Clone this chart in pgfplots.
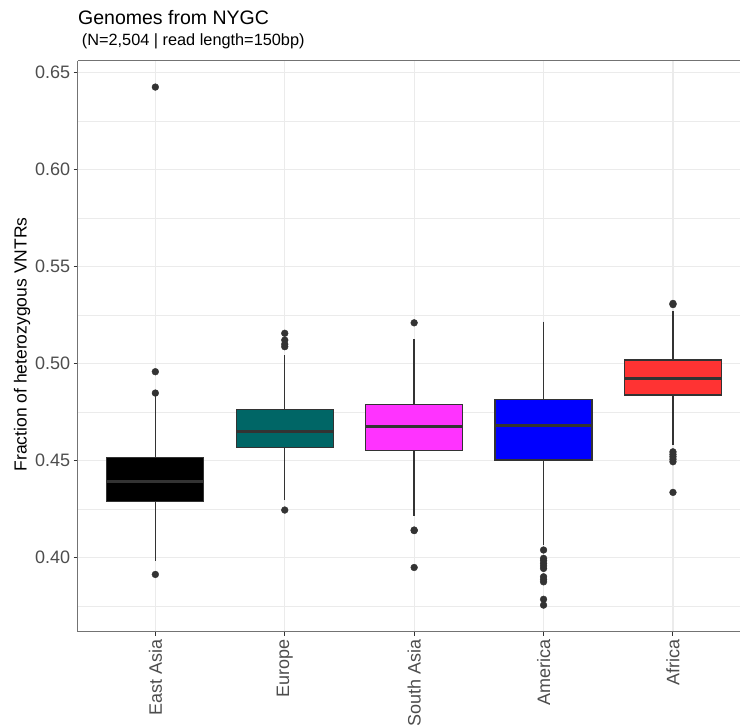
\documentclass[border=0pt]{standalone}
\usepackage{fontspec}
\setmainfont{Liberation Sans}
\usepackage{pgfplots}
\pgfplotsset{compat=1.18}
\usepgfplotslibrary{statistics}
\definecolor{eas}{HTML}{000000}
\definecolor{eur}{HTML}{006666}
\definecolor{sas}{HTML}{FF33FF}
\definecolor{amr}{HTML}{0000FF}
\definecolor{afr}{HTML}{FF3333}
\definecolor{gridc}{HTML}{EBEBEB}
\definecolor{ticklab}{HTML}{4D4D4D}
\definecolor{dk}{HTML}{333333}
\begin{document}
\begin{tikzpicture}
\path[use as bounding box] (0bp,0bp) rectangle (740bp,725bp);
\begin{axis}[
  at={(77.7bp,93.3bp)}, anchor=south west,
  scale only axis, width=662.3bp, height=571bp,
  xmin=0.4, xmax=5.518, ymin=0.3619, ymax=0.6562,
  xtick={1,2,3,4,5},
  xticklabels={East Asia, Europe, South Asia, America, Africa},
  ytick={0.40,0.45,0.50,0.55,0.60,0.65},
  minor ytick={0.375,0.425,0.475,0.525,0.575,0.625},
  yticklabel style={/pgf/number format/fixed, /pgf/number format/fixed zerofill, /pgf/number format/precision=2},
  /pgf/number format/assume math mode=true,
  ticklabel style={font=\fontsize{18bp}{20bp}\selectfont, text=ticklab},
  xticklabel style={rotate=90, anchor=east},
  xmajorgrids, ymajorgrids, yminorgrids,
  major grid style={gridc, line width=1.1bp},
  minor grid style={gridc, line width=0.6bp},
  tick align=outside, major tick length=4bp, minor tick length=0pt,
  tick style={dk, line width=1bp},
  axis x line*=box, axis y line*=left,
  axis line style={-, black!55, line width=1.1bp},
  xtick pos=bottom, ytick pos=left,
  boxplot/draw direction=y,
  boxplot/box extend=0.75,
  boxplot/whisker extend=0,
  boxplot/every box/.style={line width=1.2bp},
  boxplot/every whisker/.style={line width=1.4bp},
  boxplot/every median/.style={line width=3bp},
]
\addplot[boxplot prepared={draw position=1, median=0.4392, upper quartile=0.4515, lower quartile=0.4292, upper whisker=0.4843, lower whisker=0.3985},
  draw=dk, fill=eas, mark=*, mark size=3.4bp, mark options={dk, fill=dk}]
  table[row sep=\\, y index=0] {0.6426\\ 0.4959\\ 0.4849\\ 0.3914\\};
\addplot[boxplot prepared={draw position=2, median=0.4653, upper quartile=0.4765, lower quartile=0.4567, upper whisker=0.5045, lower whisker=0.4297},
  draw=dk, fill=eur, mark=*, mark size=3.4bp, mark options={dk, fill=dk}]
  table[row sep=\\, y index=0] {0.5157\\ 0.5122\\ 0.5101\\ 0.5088\\ 0.4246\\};
\addplot[boxplot prepared={draw position=3, median=0.4675, upper quartile=0.4791, lower quartile=0.4554, upper whisker=0.5126, lower whisker=0.4217},
  draw=dk, fill=sas, mark=*, mark size=3.4bp, mark options={dk, fill=dk}]
  table[row sep=\\, y index=0] {0.5211\\ 0.4143\\ 0.4140\\ 0.3950\\};
\addplot[boxplot prepared={draw position=4, median=0.4684, upper quartile=0.4817, lower quartile=0.4504, upper whisker=0.5217, lower whisker=0.4065},
  draw=dk, fill=amr, mark=*, mark size=3.4bp, mark options={dk, fill=dk}]
  table[row sep=\\, y index=0] {0.4040\\ 0.3997\\ 0.3985\\ 0.3971\\ 0.3958\\ 0.3945\\ 0.3902\\ 0.3889\\ 0.3876\\ 0.3786\\ 0.3756\\};
\addplot[boxplot prepared={draw position=5, median=0.4925, upper quartile=0.5019, lower quartile=0.4839, upper whisker=0.5273, lower whisker=0.4581},
  draw=dk, fill=afr, mark=*, mark size=3.4bp, mark options={dk, fill=dk}]
  table[row sep=\\, y index=0] {0.5311\\ 0.5305\\ 0.4546\\ 0.4533\\ 0.4521\\ 0.4508\\ 0.4495\\ 0.4337\\};
\end{axis}
\node[anchor=base west, inner sep=0pt, font=\fontsize{19.5bp}{22bp}\selectfont] at (78bp,700bp) {Genomes from NYGC};
\node[anchor=base west, inner sep=0pt, font=\fontsize{16.3bp}{19bp}\selectfont] at (81.7bp,679.3bp) {(N=2,504 | read length=150bp)};
\node[rotate=90, anchor=base, inner sep=0pt, font=\fontsize{17.5bp}{20bp}\selectfont] at (26.7bp,380.5bp) {Fraction of heterozygous VNTRs};
\end{tikzpicture}
\end{document}
